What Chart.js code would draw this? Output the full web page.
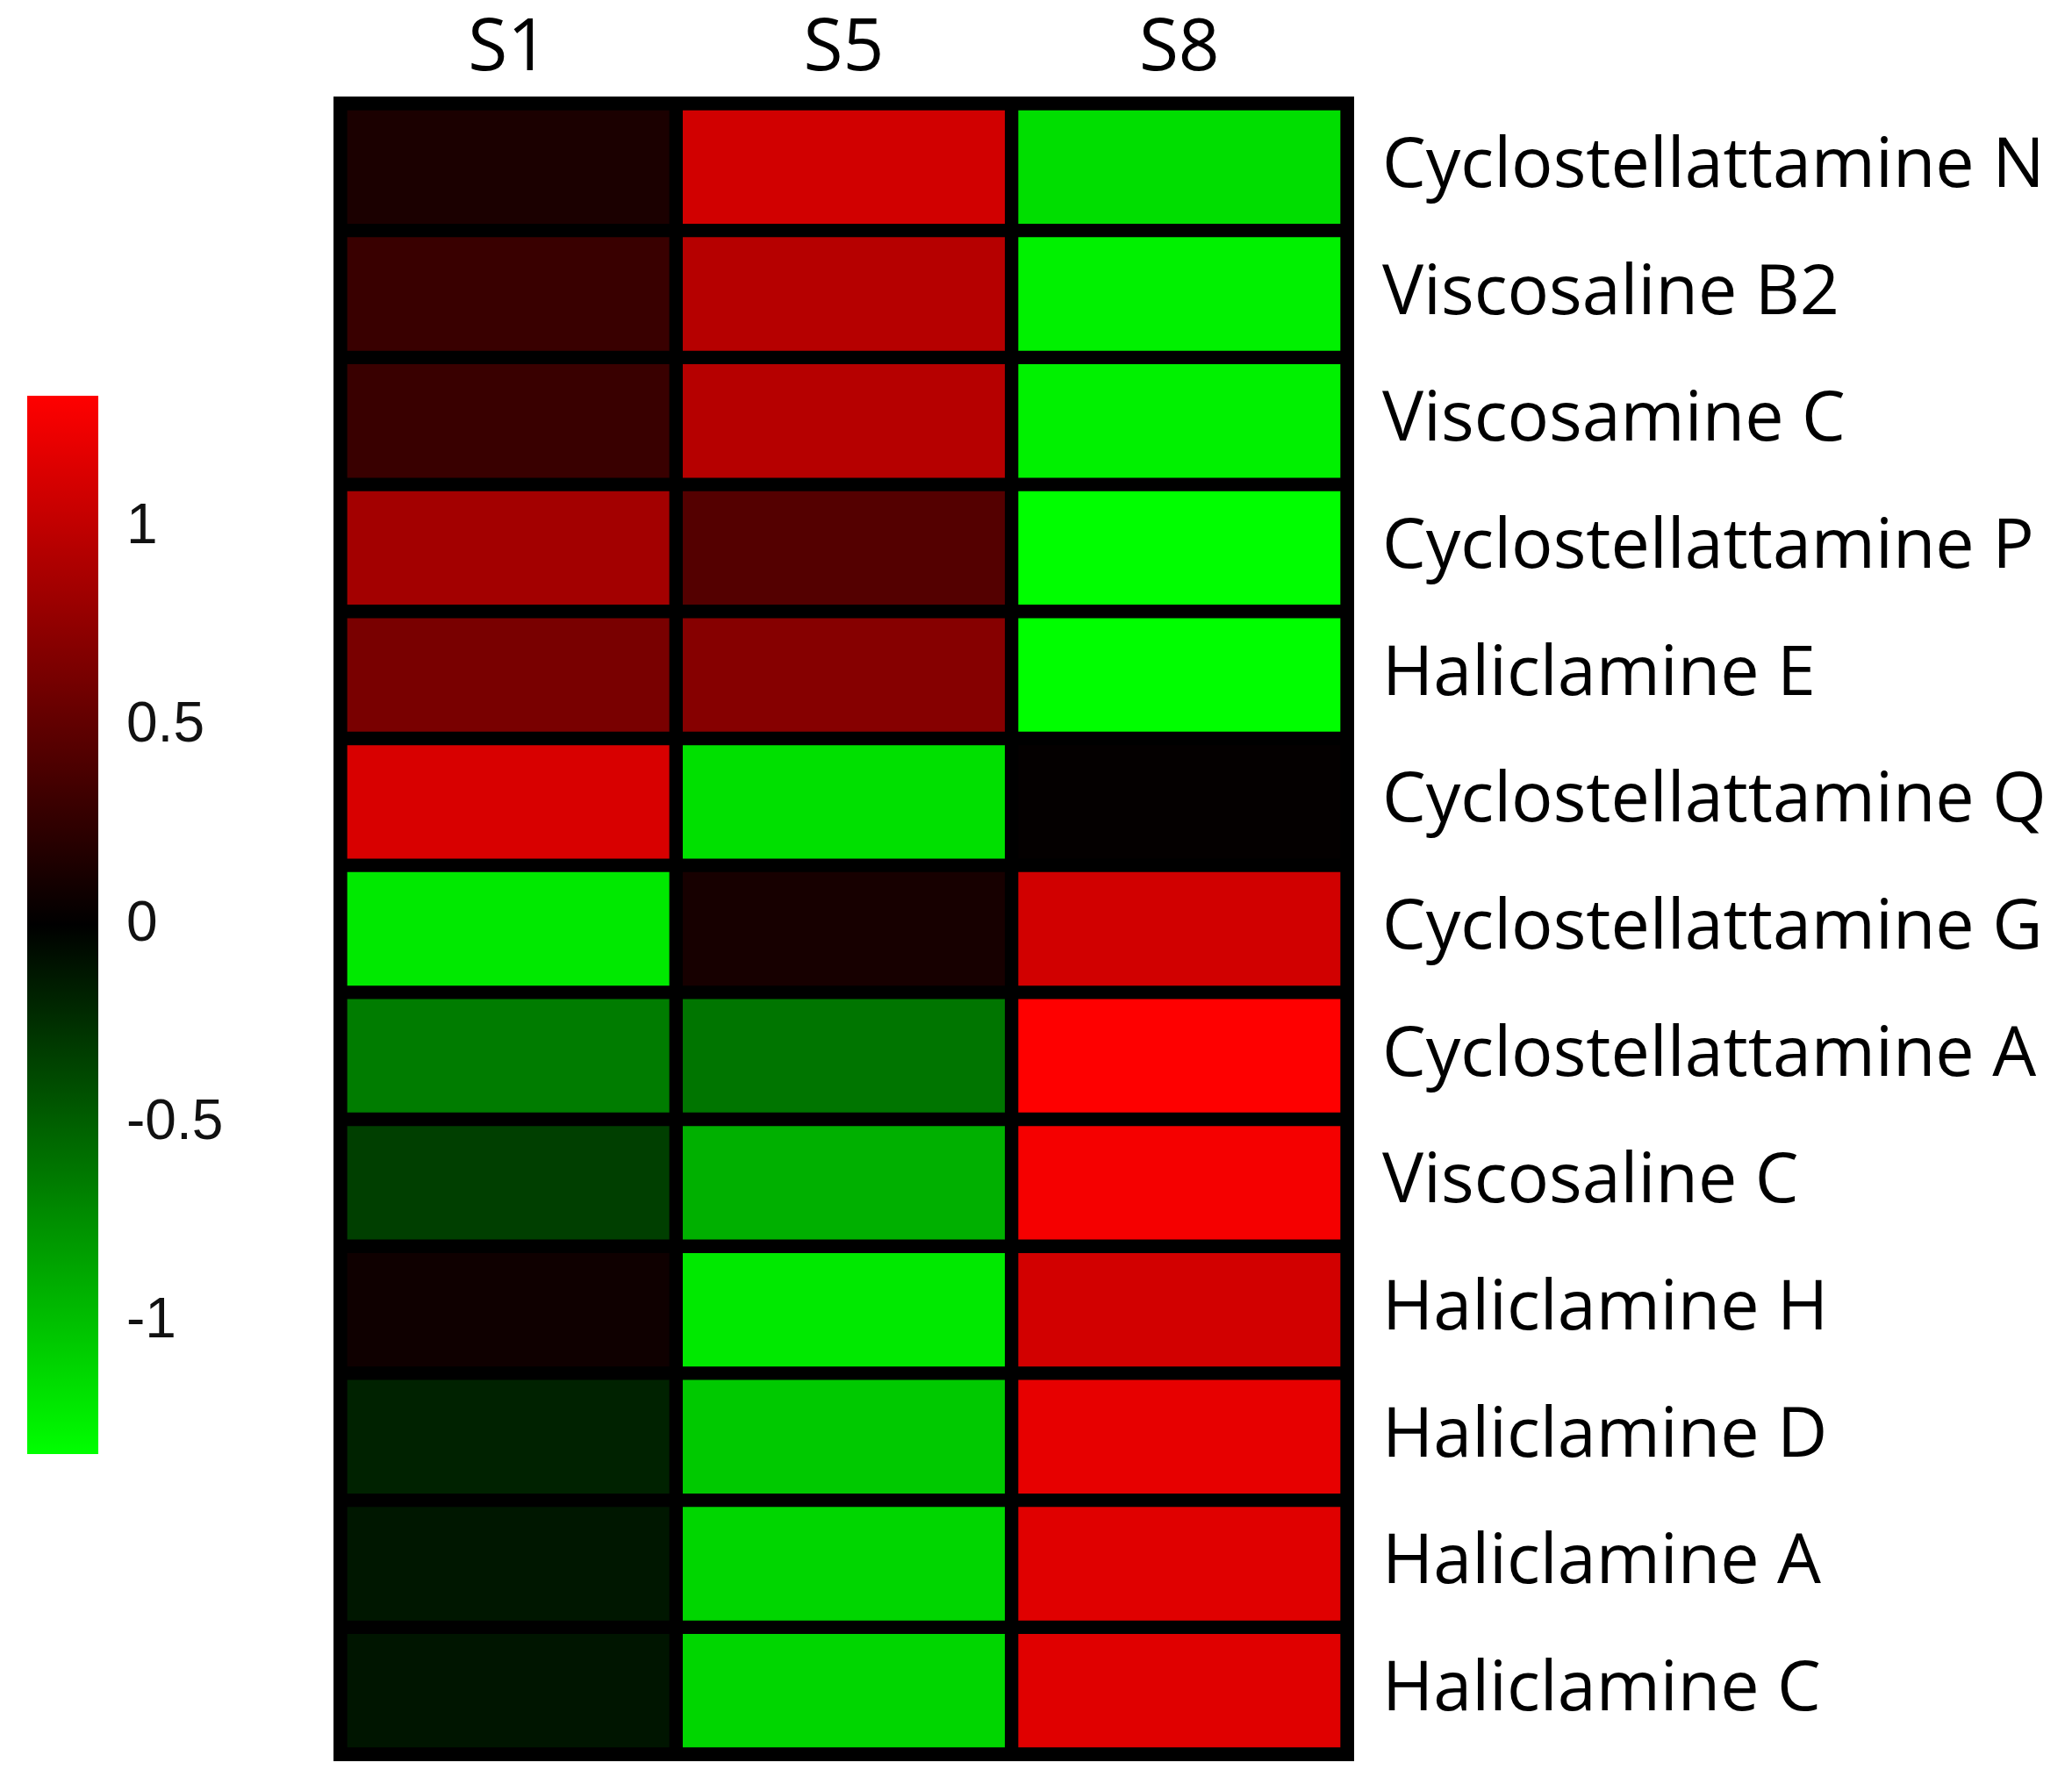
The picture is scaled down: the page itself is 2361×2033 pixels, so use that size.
<!DOCTYPE html>
<html>
<head>
<meta charset="utf-8">
<script src="https://cdn.jsdelivr.net/npm/chart.js@4.4.1/dist/chart.umd.min.js"></script>
<style>
  body { margin: 0; background: #fff; }
  #wrap { position: relative; width: 2361px; height: 2033px; }
  #heat { position: absolute; left: 0; top: 0; }
  #bar { position: absolute; left: 0; top: 0; }
</style>
</head>
<body>
<div id="wrap">
  <canvas id="heat" width="2361" height="2033"></canvas>
  <canvas id="bar" width="360" height="2033"></canvas>
</div>
<script>
// samples (columns) and compounds (rows)
const samples = ['S1', 'S5', 'S8'];
const compounds = [
  'Cyclostellattamine N', 'Viscosaline B2', 'Viscosamine C', 'Cyclostellattamine P',
  'Haliclamine E', 'Cyclostellattamine Q', 'Cyclostellattamine G', 'Cyclostellattamine A',
  'Viscosaline C', 'Haliclamine H', 'Haliclamine D', 'Haliclamine A', 'Haliclamine C'
];
// z-scores
const s1Values = [0.14, 0.30, 0.30, 0.85, 0.63, 1.13, -1.22, -0.65, -0.33, 0.08, -0.18, -0.12, -0.11];
const s5Values = [1.09, 0.95, 0.95, 0.44, 0.70, -1.17, 0.12, -0.61, -0.92, -1.22, -1.05, -1.12, -1.12];
const s8Values = [-1.16, -1.26, -1.26, -1.33, -1.33, 0.02, 1.09, 1.33, 1.28, 1.10, 1.21, 1.17, 1.17];
// colour key
const colorTicks = [-1, -0.5, 0, 0.5, 1];
const colorMin = -1.333;
const colorMax = 1.333;

function heatColor(v) {
  var t = Math.min(Math.abs(v) / colorMax, 1);
  var c = Math.round(255 * t);
  return v >= 0 ? 'rgb(' + c + ',0,0)' : 'rgb(0,' + c + ',0)';
}

// black frame behind the cells
var framePlugin = {
  id: 'frame',
  beforeDatasetsDraw: function (chart) {
    var a = chart.chartArea, ctx = chart.ctx;
    ctx.save();
    ctx.fillStyle = '#000';
    ctx.fillRect(a.left - 8, a.top - 8, a.right - a.left + 16, a.bottom - a.top + 16);
    ctx.restore();
  }
};

var heatChart = new Chart(document.getElementById('heat').getContext('2d'), {
  type: 'bar',
  data: {
    labels: compounds,
    datasets: [s1Values, s5Values, s8Values].map(function (vals, j) {
      return {
        label: samples[j],
        data: vals.map(function () { return 1; }),
        backgroundColor: vals.map(heatColor),
        borderColor: '#000',
        borderWidth: 8,
        borderSkipped: false,
        barPercentage: 1,
        categoryPercentage: 1
      };
    })
  },
  options: {
    indexAxis: 'y',
    responsive: false,
    animation: false,
    devicePixelRatio: 1,
    layout: { padding: { left: 388, top: 0, right: 0, bottom: 34 } },
    plugins: { legend: { display: false }, tooltip: { enabled: false } },
    scales: {
      x: { type: 'linear', stacked: true, min: 0, max: 3, display: false },
      xTop: {
        type: 'category', axis: 'x', labels: samples, position: 'top', offset: true,
        grid: { display: false }, border: { display: false },
        ticks: { color: '#000', padding: 4, font: { family: 'Open Sans', size: 82 } },
        afterFit: function (s) { s.height = 118; }
      },
      y: {
        type: 'category', position: 'right', stacked: true,
        grid: { display: false }, border: { display: false },
        ticks: { color: '#000', padding: 32, font: { family: 'Open Sans', size: 79 } },
        afterFit: function (s) { s.width = 826; s.paddingTop = 0; s.paddingBottom = 0; }
      }
    }
  },
  plugins: [framePlugin]
});

var barChart = new Chart(document.getElementById('bar').getContext('2d'), {
  type: 'bar',
  data: {
    labels: ['key'],
    datasets: [{
      data: [[colorMin, colorMax]],
      backgroundColor: function (c) {
        var a = c.chart.chartArea;
        if (!a) return '#000';
        var g = c.chart.ctx.createLinearGradient(0, a.bottom, 0, a.top);
        g.addColorStop(0, 'rgb(0,255,0)');
        g.addColorStop(0.5, 'rgb(0,0,0)');
        g.addColorStop(1, 'rgb(255,0,0)');
        return g;
      },
      borderWidth: 0,
      barPercentage: 1,
      categoryPercentage: 1
    }]
  },
  options: {
    responsive: false,
    animation: false,
    devicePixelRatio: 1,
    layout: { padding: { left: 31, top: 451, right: 0, bottom: 376 } },
    plugins: { legend: { display: false }, tooltip: { enabled: false } },
    scales: {
      x: { display: false },
      y: {
        position: 'right', min: colorMin, max: colorMax,
        grid: { display: false }, border: { display: false },
        afterBuildTicks: function (s) { s.ticks = colorTicks.map(function (v) { return { value: v }; }); },
        ticks: {
          color: '#111', padding: 24, font: { family: 'Liberation Sans', size: 64 },
          callback: function (v) { return String(v); }
        },
        afterFit: function (s) { s.width = 248; s.paddingTop = 0; s.paddingBottom = 0; }
      }
    }
  }
});
</script>
</body>
</html>
